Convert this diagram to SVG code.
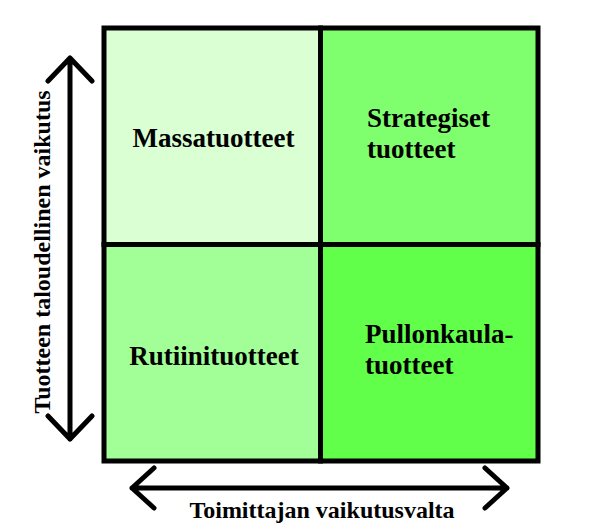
<svg xmlns="http://www.w3.org/2000/svg" width="592" height="532" viewBox="0 0 592 532">
<style>
.lbl{font-family:"Liberation Serif","Times New Roman",serif;font-weight:bold;font-size:27px;fill:#000}
.ax{font-family:"Liberation Serif","Times New Roman",serif;font-weight:bold;font-size:24px;fill:#000}
.cell{stroke:#000;stroke-width:5}
.arr{fill:none;stroke:#000;stroke-width:5;stroke-linecap:round;stroke-linejoin:round}
</style>
<rect width="592" height="532" fill="#fff"/>
<g id="massatuotteet">
<rect class="cell" x="104" y="28" width="216.5" height="216.5" fill="#D9FFD3"/>
<text class="lbl" x="213.5" y="147" text-anchor="middle">Massatuotteet</text>
</g>
<g id="strategiset">
<rect class="cell" x="320.5" y="28" width="217.5" height="216.5" fill="#80FF6E"/>
<text class="lbl" x="367" y="127">Strategiset</text>
<text class="lbl" x="367" y="158">tuotteet</text>
</g>
<g id="rutiinituotteet">
<rect class="cell" x="104" y="244.5" width="216.5" height="216.5" fill="#A2FF98"/>
<text class="lbl" x="214" y="365" text-anchor="middle">Rutiinituotteet</text>
</g>
<g id="pullonkaula">
<rect class="cell" x="320.5" y="244.5" width="217.5" height="216.5" fill="#62FF4A"/>
<text class="lbl" x="365" y="343">Pullonkaula-</text>
<text class="lbl" x="365" y="374">tuotteet</text>
</g>
<g id="connectors">
<path class="arr" d="M70,58 V439 M48,81 L70,58 L92,81 M48,416 L70,439 L92,416"/>
<path class="arr" d="M132,488 H507 M154,468 L132,488 L154,508 M485,468 L507,488 L485,508"/>
</g>
<text class="ax" x="322" y="518" text-anchor="middle">Toimittajan vaikutusvalta</text>
<text class="ax" transform="translate(50,252) rotate(-90)" x="0" y="0" text-anchor="middle">Tuotteen taloudellinen vaikutus</text>
</svg>
